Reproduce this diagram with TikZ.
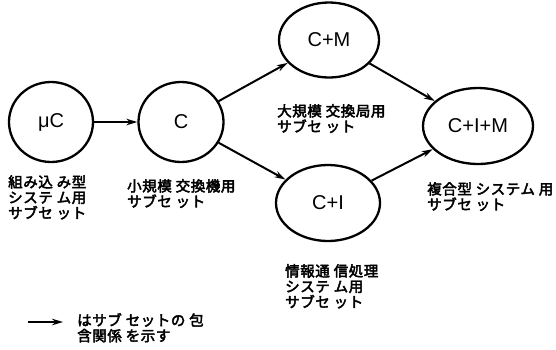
\documentclass[tikz,border=0pt]{standalone}
\usepackage{fontspec}
\setmainfont{Liberation Sans}
\newfontfamily\jp[FakeBold=3,LetterSpace=4]{Noto Sans CJK JP}
\usetikzlibrary{shapes.geometric,arrows.meta}
\begin{document}
\begin{tikzpicture}[x=1pt,y=-1pt,
  set/.style={draw,ellipse,line width=2.3pt,inner sep=0pt,font=\fontsize{20}{22}\selectfont},
  lbl/.style={anchor=north west,align=left,inner sep=0pt,font=\jp\fontsize{14.5}{15.5}\selectfont},
  inc/.style={line width=2pt,-{Stealth[length=11pt,width=6.5pt]}}]
\useasboundingbox (0,0) rectangle (556,349);
\node[set,minimum width=84pt,minimum height=80pt] (uc) at (51,122) {μC};
\node[set,minimum width=85pt,minimum height=80pt] (c) at (181,122) {C};
\node[set,minimum width=100pt,minimum height=75pt] (cm) at (329,40) {C+M};
\node[set,minimum width=104pt,minimum height=76pt] (ci) at (328,203) {C+I};
\node[set,minimum width=110pt,minimum height=76pt] (cim) at (478,126) {C+I+M};
\draw[inc] (uc) -- (c);
\draw[inc] (c) -- (cm);
\draw[inc] (c) -- (ci);
\draw[inc] (cm) -- (cim);
\draw[inc] (ci) -- (cim);
\node[lbl] (l1) at (8,175) {組み込 み型\\システ ム用\\サブセ ット};
\node[lbl] (l2) at (127,179) {小規模 交換機用\\サブセ ット};
\node[lbl] (l3) at (277,104) {大規模 交換局用\\サブセ ット};
\node[lbl] (l4) at (427,182) {複合型 システム 用\\サブセ ット};
\node[lbl] (l5) at (285,264) {情報通 信処理\\システ ム用\\サブセ ット};
\coordinate (a0) at (28,322);
\coordinate (a1) at (63,322);
\draw[inc] (a0) -- (a1);
\node[lbl] (l6) at (77,313) {はサブ セットの 包\\含関係 を示す};
\end{tikzpicture}
\end{document}
